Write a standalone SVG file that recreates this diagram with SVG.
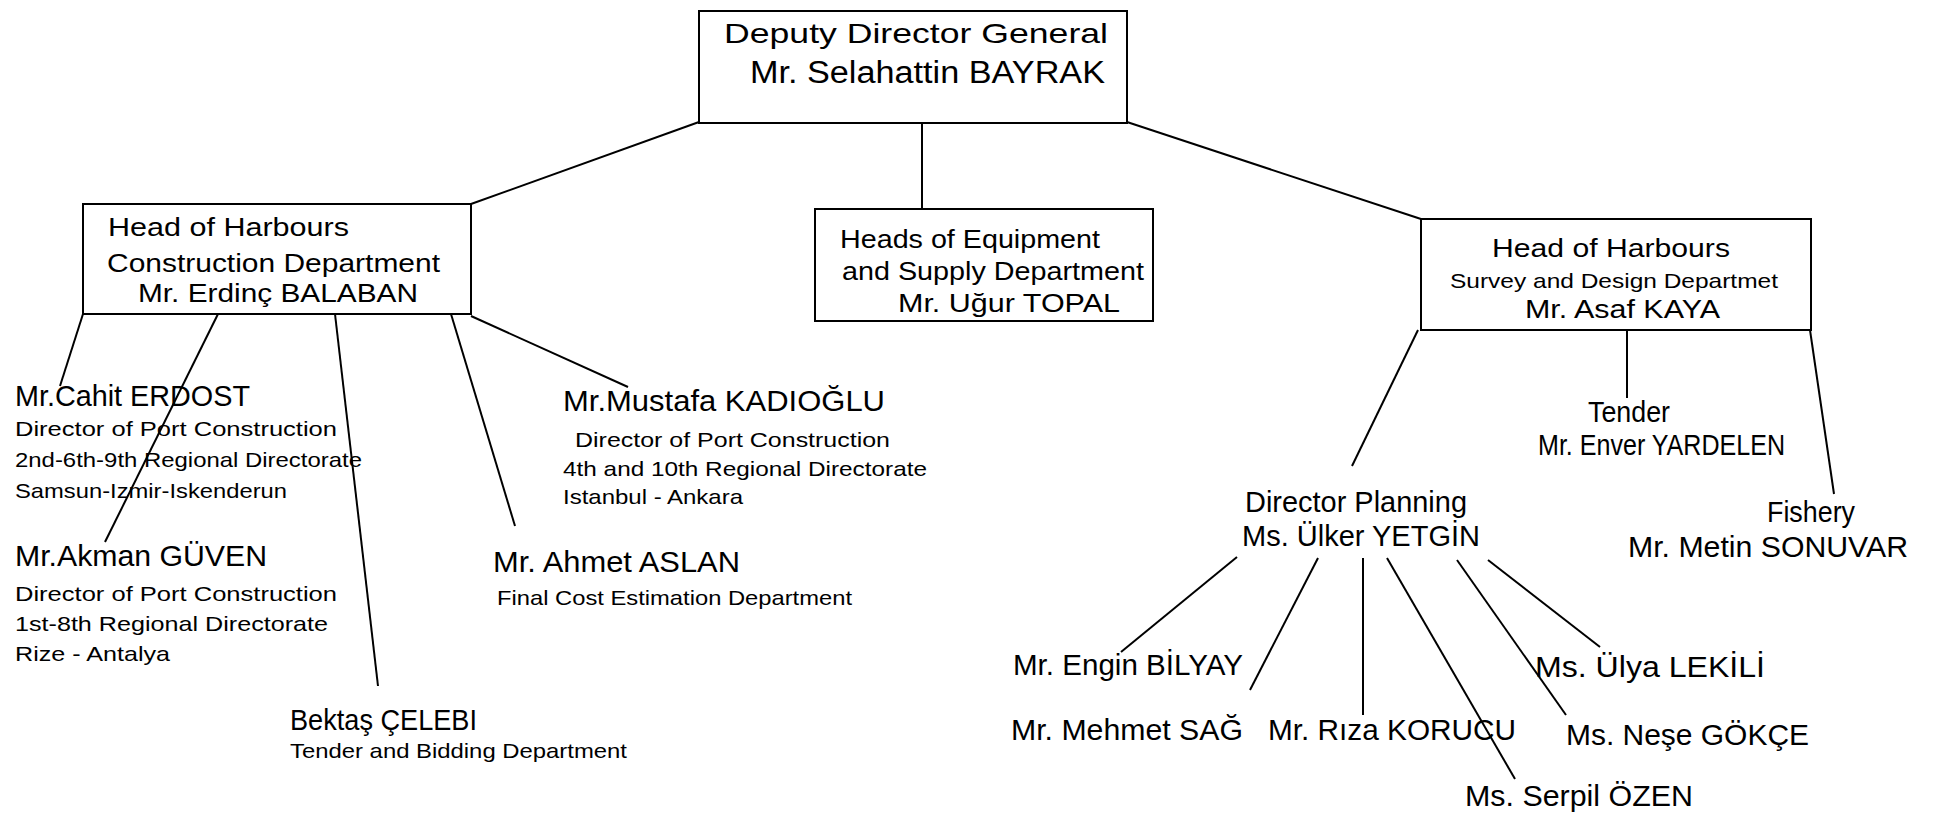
<svg xmlns="http://www.w3.org/2000/svg" width="1933" height="820" viewBox="0 0 1933 820">
<style>
text{font-family:"Liberation Sans",Arial,sans-serif;fill:#000;}
.box{fill:none;stroke:#000;stroke-width:2;}
.ln{stroke:#000;stroke-width:2;fill:none;}
.n{font-size:29px;}
.h{font-size:26px;}
.s{font-size:21px;}
</style>
<rect width="1933" height="820" fill="#fff"/>
<g id="connectors">
<line class="ln" x1="699" y1="122" x2="471" y2="204"/>
<line class="ln" x1="922" y1="123" x2="922" y2="209"/>
<line class="ln" x1="1127" y1="122" x2="1421" y2="219"/>
<line class="ln" x1="83" y1="314" x2="60" y2="386"/>
<line class="ln" x1="218" y1="314" x2="105" y2="542"/>
<line class="ln" x1="335" y1="314" x2="378" y2="686"/>
<line class="ln" x1="451" y1="314" x2="515" y2="526"/>
<line class="ln" x1="471" y1="316" x2="628" y2="387"/>
<line class="ln" x1="1418" y1="330" x2="1352" y2="466"/>
<line class="ln" x1="1627" y1="330" x2="1627" y2="398"/>
<line class="ln" x1="1810" y1="330" x2="1834" y2="494"/>
<line class="ln" x1="1237" y1="557" x2="1121" y2="652"/>
<line class="ln" x1="1318" y1="558" x2="1250" y2="690"/>
<line class="ln" x1="1363" y1="558" x2="1363" y2="715"/>
<line class="ln" x1="1387" y1="558" x2="1515" y2="779"/>
<line class="ln" x1="1457" y1="560" x2="1566" y2="715"/>
<line class="ln" x1="1488" y1="560" x2="1600" y2="647"/>
</g>
<g id="deputy">
<rect class="box" x="699" y="11" width="428" height="112"/>
<text x="724" y="43" font-size="28" textLength="384" lengthAdjust="spacingAndGlyphs">Deputy Director General</text>
<text x="750" y="83" font-size="31" textLength="355" lengthAdjust="spacingAndGlyphs">Mr. Selahattin BAYRAK</text>
</g>
<g id="construction">
<rect class="box" x="83" y="204" width="388" height="110"/>
<text class="h" x="108" y="236" textLength="241" lengthAdjust="spacingAndGlyphs">Head of Harbours</text>
<text class="h" x="107" y="272" textLength="333" lengthAdjust="spacingAndGlyphs">Construction Department</text>
<text class="h" x="138" y="302" textLength="280" lengthAdjust="spacingAndGlyphs">Mr. Erdinç BALABAN</text>
</g>
<g id="equipment">
<rect class="box" x="815" y="209" width="338" height="112"/>
<text class="h" x="840" y="248" textLength="260" lengthAdjust="spacingAndGlyphs">Heads of Equipment</text>
<text class="h" x="842" y="280" textLength="302" lengthAdjust="spacingAndGlyphs">and Supply Department</text>
<text class="h" x="898" y="312" textLength="222" lengthAdjust="spacingAndGlyphs">Mr. Uğur TOPAL</text>
</g>
<g id="survey">
<rect class="box" x="1421" y="219" width="390" height="111"/>
<text class="h" x="1492" y="257" textLength="238" lengthAdjust="spacingAndGlyphs">Head of Harbours</text>
<text class="s" x="1450" y="288" textLength="328" lengthAdjust="spacingAndGlyphs">Survey and Design Departmet</text>
<text class="h" x="1525" y="318" font-size="27" textLength="195" lengthAdjust="spacingAndGlyphs">Mr. Asaf KAYA</text>
</g>
<g id="erdost">
<text class="n" x="15" y="406" textLength="235" lengthAdjust="spacingAndGlyphs">Mr.Cahit ERDOST</text>
<text class="s" x="15" y="436" textLength="322" lengthAdjust="spacingAndGlyphs">Director of Port Construction</text>
<text class="s" x="15" y="467" textLength="347" lengthAdjust="spacingAndGlyphs">2nd-6th-9th Regional Directorate</text>
<text class="s" x="15" y="498" textLength="272" lengthAdjust="spacingAndGlyphs">Samsun-Izmir-Iskenderun</text>
</g>
<g id="guven">
<text class="n" x="15" y="566" textLength="252" lengthAdjust="spacingAndGlyphs">Mr.Akman GÜVEN</text>
<text class="s" x="15" y="601" textLength="322" lengthAdjust="spacingAndGlyphs">Director of Port Construction</text>
<text class="s" x="15" y="631" textLength="313" lengthAdjust="spacingAndGlyphs">1st-8th Regional Directorate</text>
<text class="s" x="15" y="661" textLength="155" lengthAdjust="spacingAndGlyphs">Rize - Antalya</text>
</g>
<g id="celebi">
<text class="n" x="290" y="730" textLength="187" lengthAdjust="spacingAndGlyphs">Bektaş  ÇELEBI</text>
<text class="s" x="290" y="758" textLength="337" lengthAdjust="spacingAndGlyphs">Tender and Bidding Department</text>
</g>
<g id="aslan">
<text class="n" x="493" y="572" textLength="247" lengthAdjust="spacingAndGlyphs">Mr. Ahmet ASLAN</text>
<text class="s" x="497" y="605" textLength="355" lengthAdjust="spacingAndGlyphs">Final Cost Estimation Department</text>
</g>
<g id="kadioglu">
<text class="n" x="563" y="411" textLength="322" lengthAdjust="spacingAndGlyphs">Mr.Mustafa  KADIOĞLU</text>
<text class="s" x="575" y="447" textLength="315" lengthAdjust="spacingAndGlyphs">Director of Port Construction</text>
<text class="s" x="563" y="476" textLength="364" lengthAdjust="spacingAndGlyphs">4th and 10th Regional Directorate</text>
<text class="s" x="563" y="504" textLength="180" lengthAdjust="spacingAndGlyphs">Istanbul - Ankara</text>
</g>
<g id="yardelen">
<text class="n" x="1588" y="422" textLength="82" lengthAdjust="spacingAndGlyphs">Tender</text>
<text class="n" x="1538" y="455" textLength="247" lengthAdjust="spacingAndGlyphs">Mr. Enver YARDELEN</text>
</g>
<g id="sonuvar">
<text class="n" x="1767" y="522" textLength="88" lengthAdjust="spacingAndGlyphs">Fishery</text>
<text class="n" x="1628" y="557" textLength="280" lengthAdjust="spacingAndGlyphs">Mr. Metin SONUVAR</text>
</g>
<g id="yetgin">
<text class="n" x="1245" y="512" textLength="222" lengthAdjust="spacingAndGlyphs">Director Planning</text>
<text class="n" x="1242" y="546" textLength="238" lengthAdjust="spacingAndGlyphs">Ms. Ülker YETGİN</text>
</g>
<g id="bilyay"><text class="n" x="1013" y="675" textLength="230" lengthAdjust="spacingAndGlyphs">Mr. Engin BİLYAY</text></g>
<g id="sag"><text class="n" x="1011" y="740" textLength="232" lengthAdjust="spacingAndGlyphs">Mr. Mehmet SAĞ</text></g>
<g id="korucu"><text class="n" x="1268" y="740" textLength="248" lengthAdjust="spacingAndGlyphs">Mr. Rıza KORUCU</text></g>
<g id="ozen"><text class="n" x="1465" y="806" textLength="228" lengthAdjust="spacingAndGlyphs">Ms. Serpil ÖZEN</text></g>
<g id="gokce"><text class="n" x="1566" y="745" textLength="243" lengthAdjust="spacingAndGlyphs">Ms. Neşe GÖKÇE</text></g>
<g id="lekili"><text class="n" x="1535" y="677" textLength="230" lengthAdjust="spacingAndGlyphs">Ms. Ülya LEKİLİ</text></g>
</svg>
